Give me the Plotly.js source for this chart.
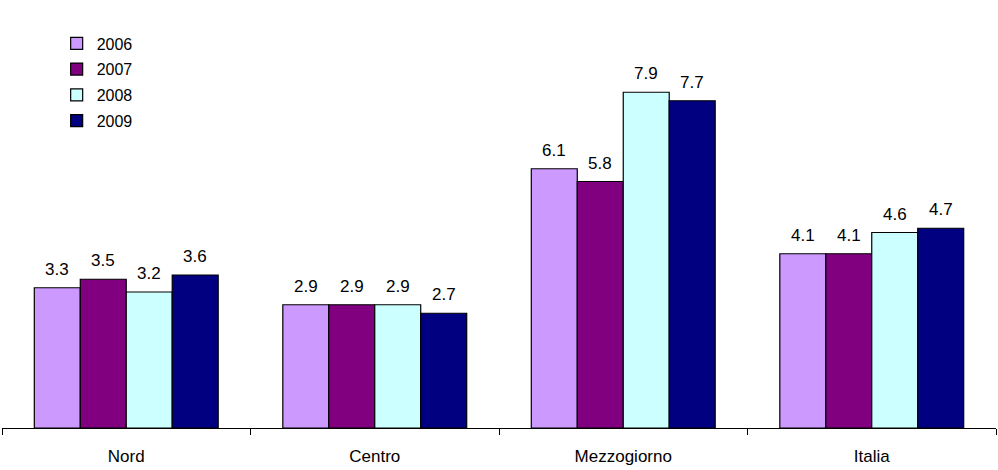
<!DOCTYPE html>
<html>
<head>
<meta charset="utf-8">
<script src="https://cdn.plot.ly/plotly-3.0.1.min.js"></script>
<style>
  html, body { margin: 0; padding: 0; background: #fff; }
  #chart { width: 998px; height: 470px; }
</style>
</head>
<body>
<div id="chart"></div>
<script>
// ripartizioni territoriali
var areas = ['Nord', 'Centro', 'Mezzogiorno', 'Italia'];
var years = ['2006', '2007', '2008', '2009'];

var v2006 = [3.3, 2.9, 6.1, 4.1];
var v2007 = [3.5, 2.9, 5.8, 4.1];
var v2008 = [3.2, 2.9, 7.9, 4.6];
var v2009 = [3.6, 2.7, 7.7, 4.7];

var colors = ['#CC99FF', '#800080', '#CCFFFF', '#000080'];
var series = [v2006, v2007, v2008, v2009];

var bargap = 0.26;
var FONT = 'Liberation Sans, Arial, sans-serif';

var data = [];
var labels = [];
var barw = (1 - bargap) / years.length;
for (var i = 0; i < years.length; i++) {
    data.push({
        type: 'bar',
        name: years[i],
        legendgroup: years[i],
        x: areas,
        y: series[i],
        marker: { color: colors[i], line: { color: '#000', width: 1.2 } },
        hoverinfo: 'x+y+name'
    });
    /* value labels above each bar, placed at the bar's centre (category index + offset) */
    for (var k = 0; k < areas.length; k++) {
        labels.push({
            x: k + (i - (years.length - 1) / 2) * barw,
            y: series[i][k],
            xref: 'x', yref: 'y',
            text: series[i][k].toFixed(1),
            showarrow: false,
            yanchor: 'bottom',
            yshift: 7,
            font: { family: FONT, size: 17, color: '#000' }
        });
    }
}

var layout = {
    width: 998,
    height: 470,
    margin: { l: 2, r: 2, t: 3, b: 42 },
    paper_bgcolor: '#fff',
    plot_bgcolor: '#fff',
    barmode: 'group',
    bargap: bargap,
    bargroupgap: 0,
    font: { family: FONT, size: 17, color: '#000' },
    showlegend: true,
    legend: {
        x: 0.055, y: 0.945, xanchor: 'left', yanchor: 'top',
        bgcolor: 'rgba(0,0,0,0)',
        font: { size: 16 },
        itemwidth: 30,
        tracegroupgap: 2
    },
    annotations: labels,
    xaxis: {
        type: 'category',
        range: [-0.5, areas.length - 0.5],
        showline: true,
        linecolor: '#000',
        linewidth: 1,
        ticks: 'outside',
        tickson: 'boundaries',
        ticklen: 6,
        tickcolor: '#000',
        showgrid: false,
        ticklabelstandoff: 13,
        automargin: false,
        tickfont: { size: 17 }
    },
    yaxis: {
        range: [0, 10],
        visible: false,
        showgrid: false,
        zeroline: false
    }
};

Plotly.newPlot('chart', data, layout, { displayModeBar: false, staticPlot: true });
</script>
</body>
</html>
